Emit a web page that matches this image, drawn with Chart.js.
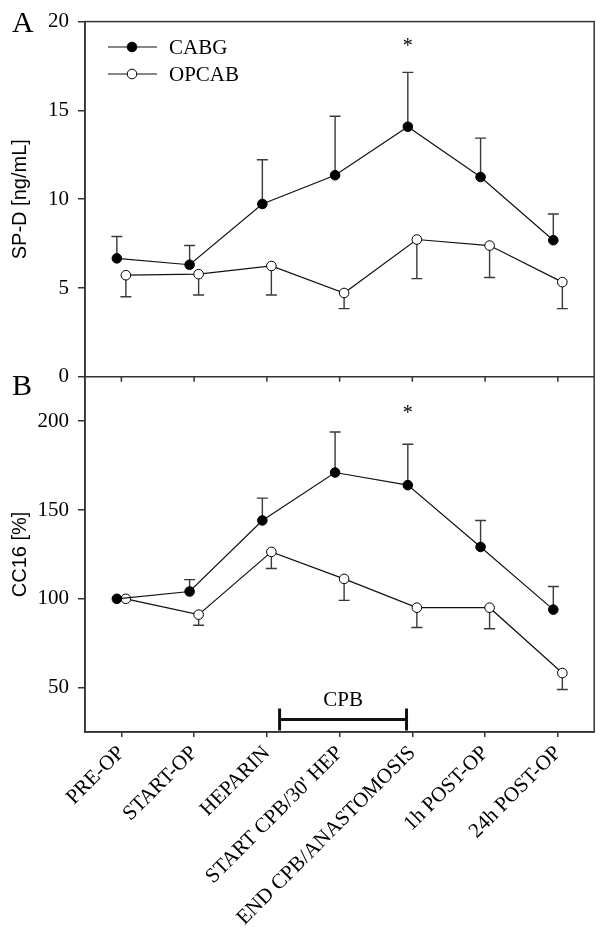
<!DOCTYPE html>
<html>
<head>
<meta charset="utf-8">
<script src="https://cdn.jsdelivr.net/npm/chart.js@4.4.0/dist/chart.umd.min.js"></script>
<style>
  html, body { margin: 0; padding: 0; background: #fff; }
</style>
</head>
<body>
<canvas id="myChart" width="600" height="934"></canvas>
<script>
var categories = ["PRE-OP", "START-OP", "HEPARIN", "START CPB/30' HEP", "END CPB/ANASTOMOSIS", "1h POST-OP", "24h POST-OP"];

// panel A: SP-D [ng/mL] - means and where each error bar ends
var cabgSPD = [6.67, 6.31, 9.73, 11.35, 14.08, 11.25, 7.69];
var cabgSPDErr = [7.9, 7.39, 12.22, 14.67, 17.14, 13.44, 9.17];
var opcabSPD = [5.72, 5.78, 6.24, 4.72, 7.73, 7.39, 5.33];
var opcabSPDErr = [4.51, 4.61, 4.61, 3.84, 5.53, 5.59, 3.84];

// panel B: CC16 [%]
var cabgCC16 = [100, 104.1, 144.1, 171.1, 164, 129.2, 93.9];
var cabgCC16Err = [null, 110.8, 156.7, 193.9, 187, 144.1, 106.9];
var opcabCC16 = [100, 91.1, 126.4, 111.2, 95, 95, 58.2];
var opcabCC16Err = [null, 85.1, 117.1, 99.1, 83.8, 83.1, 48.9];

var ticksSPD = [0, 5, 10, 15, 20];
var ticksCC16 = [50, 100, 150, 200];

// significance marks and the CPB period bracket
var sigIndex = 4;
var sigSPD = 18.6;
var sigCC16 = 204;
var cpbRange = [2.175, 3.92];
var cpbLevel = 32.1;
var cpbTextLevel = 43;

var serif = "'Liberation Serif', 'Times New Roman', serif";
var sans = "'Liberation Sans', Arial, sans-serif";
var frameColor = '#333';
var shift = 0.062;

Chart.defaults.color = '#000';
Chart.defaults.font.family = serif;
Chart.defaults.font.size = 21;

var toPoints = function (vals, dx) {
  return vals.map(function (v, i) { return { x: i + dx, y: v }; });
};

var makeSet = function (label, vals, errs, dx, axis, fill) {
  return {
    label: label,
    data: toPoints(vals, dx),
    errEnd: errs,
    yAxisID: axis,
    borderColor: '#111',
    borderWidth: 1.2,
    pointRadius: 4.8,
    pointBackgroundColor: fill,
    pointBorderColor: '#000',
    pointBorderWidth: 1,
    tension: 0,
    clip: false
  };
};

var errorBars = {
  id: 'errorBars',
  beforeDatasetsDraw: function (chart) {
    var ctx = chart.ctx;
    var xs = chart.scales.x;
    ctx.save();
    ctx.strokeStyle = '#3a3a3a';
    ctx.lineWidth = 1.4;
    chart.data.datasets.forEach(function (ds) {
      var ys = chart.scales[ds.yAxisID];
      ds.errEnd.forEach(function (e, i) {
        if (e === null) return;
        var px = xs.getPixelForValue(ds.data[i].x);
        var p0 = ys.getPixelForValue(ds.data[i].y);
        var p1 = ys.getPixelForValue(e);
        ctx.beginPath();
        ctx.moveTo(px, p0);
        ctx.lineTo(px, p1);
        ctx.moveTo(px - 5.5, p1);
        ctx.lineTo(px + 5.5, p1);
        ctx.stroke();
      });
    });
    ctx.restore();
  }
};

var decorations = {
  id: 'decorations',
  afterDraw: function (chart) {
    var ctx = chart.ctx;
    var area = chart.chartArea;
    var xs = chart.scales.x;
    var yA = chart.scales.yA;
    var yB = chart.scales.yB;
    ctx.save();

    // frame and panel separator
    ctx.strokeStyle = frameColor;
    ctx.lineWidth = 1.5;
    ctx.strokeRect(area.left, area.top, area.right - area.left, area.bottom - area.top);
    var sep = yA.bottom;
    ctx.beginPath();
    ctx.moveTo(area.left, sep);
    ctx.lineTo(area.right, sep);
    categories.forEach(function (c, i) {
      var px = xs.getPixelForValue(i);
      ctx.moveTo(px, sep);
      ctx.lineTo(px, sep + 5);
    });
    ctx.stroke();

    // asterisks
    ctx.fillStyle = '#000';
    ctx.font = '20px ' + serif;
    ctx.textAlign = 'center';
    ctx.textBaseline = 'middle';
    ctx.fillText('*', xs.getPixelForValue(sigIndex - shift), yA.getPixelForValue(sigSPD));
    ctx.fillText('*', xs.getPixelForValue(sigIndex - shift), yB.getPixelForValue(sigCC16));

    // CPB bracket
    var bx0 = xs.getPixelForValue(cpbRange[0]);
    var bx1 = xs.getPixelForValue(cpbRange[1]);
    var by = yB.getPixelForValue(cpbLevel);
    ctx.strokeStyle = '#111';
    ctx.lineWidth = 3;
    ctx.beginPath();
    ctx.moveTo(bx0, by);
    ctx.lineTo(bx1, by);
    ctx.moveTo(bx0, by - 11);
    ctx.lineTo(bx0, by + 11);
    ctx.moveTo(bx1, by - 11);
    ctx.lineTo(bx1, by + 11);
    ctx.stroke();
    ctx.font = '21px ' + serif;
    ctx.fillText('CPB', (bx0 + bx1) / 2, yB.getPixelForValue(cpbTextLevel));

    // panel letters
    ctx.font = '30px ' + serif;
    ctx.textAlign = 'left';
    ctx.textBaseline = 'alphabetic';
    ctx.fillText('A', 12, yA.top + 10);
    ctx.fillText('B', 12, yB.top + 18);

    // legend
    var sets = chart.data.datasets;
    [0, 1].forEach(function (k) {
      var ds = sets[k];
      var ly = 47 + k * 27;
      ctx.strokeStyle = ds.borderColor;
      ctx.lineWidth = 1.2;
      ctx.beginPath();
      ctx.moveTo(108, ly);
      ctx.lineTo(157, ly);
      ctx.stroke();
      ctx.beginPath();
      ctx.arc(132, ly, ds.pointRadius, 0, Math.PI * 2);
      ctx.fillStyle = ds.pointBackgroundColor;
      ctx.fill();
      ctx.lineWidth = 1;
      ctx.strokeStyle = '#000';
      ctx.stroke();
      ctx.fillStyle = '#000';
      ctx.font = '21px ' + serif;
      ctx.textBaseline = 'middle';
      ctx.fillText(ds.label, 169, ly + 1);
    });
    ctx.restore();
  }
};

var ctx = document.getElementById("myChart");
var myChart = new Chart(ctx, {
  type: 'line',
  data: {
    datasets: [
      makeSet('CABG', cabgSPD, cabgSPDErr, -shift, 'yA', '#000'),
      makeSet('OPCAB', opcabSPD, opcabSPDErr, shift, 'yA', '#fff'),
      makeSet('CABG', cabgCC16, cabgCC16Err, -shift, 'yB', '#000'),
      makeSet('OPCAB', opcabCC16, opcabCC16Err, shift, 'yB', '#fff')
    ]
  },
  options: {
    responsive: false,
    animation: false,
    layout: { padding: { top: 13, right: 3, left: 0, bottom: 0 } },
    plugins: { legend: { display: false }, tooltip: { enabled: false } },
    scales: {
      // left boxes are stacked in reverse order, so the lower panel comes first
      yB: {
        type: 'linear',
        position: 'left',
        stack: 'panels',
        stackWeight: 1,
        min: 25,
        max: 225,
        afterBuildTicks: function (axis) { axis.ticks = ticksCC16.map(function (v) { return { value: v }; }); },
        afterFit: function (axis) { axis.width = 85; },
        ticks: { padding: 9, font: { size: 21 } },
        grid: { drawOnChartArea: false, tickLength: 7, color: frameColor, lineWidth: 1.5 },
        border: { color: frameColor, width: 1.5 },
        title: { display: true, text: 'CC16 [%]', font: { family: sans, size: 20 }, padding: { top: 8, bottom: 0 } }
      },
      yA: {
        type: 'linear',
        position: 'left',
        stack: 'panels',
        stackWeight: 1,
        min: 0,
        max: 20,
        afterBuildTicks: function (axis) { axis.ticks = ticksSPD.map(function (v) { return { value: v }; }); },
        afterFit: function (axis) { axis.width = 85; },
        ticks: { padding: 9, font: { size: 21 } },
        grid: { drawOnChartArea: false, tickLength: 7, color: frameColor, lineWidth: 1.5 },
        border: { color: frameColor, width: 1.5 },
        title: { display: true, text: 'SP-D [ng/mL]', font: { family: sans, size: 20 }, padding: { top: 8, bottom: 0 } }
      },
      x: {
        type: 'linear',
        position: 'bottom',
        min: -0.5,
        max: 6.5,
        afterBuildTicks: function (axis) { axis.ticks = categories.map(function (c, i) { return { value: i }; }); },
        afterFit: function (axis) { axis.height = 202; },
        ticks: {
          autoSkip: false,
          minRotation: 45,
          maxRotation: 45,
          padding: 4,
          font: { size: 21 },
          callback: function (value) { return categories[value]; }
        },
        grid: { drawOnChartArea: false, tickLength: 5, color: frameColor, lineWidth: 1.5 },
        border: { color: frameColor, width: 1.5 }
      }
    }
  },
  plugins: [errorBars, decorations]
});
</script>
</body>
</html>
